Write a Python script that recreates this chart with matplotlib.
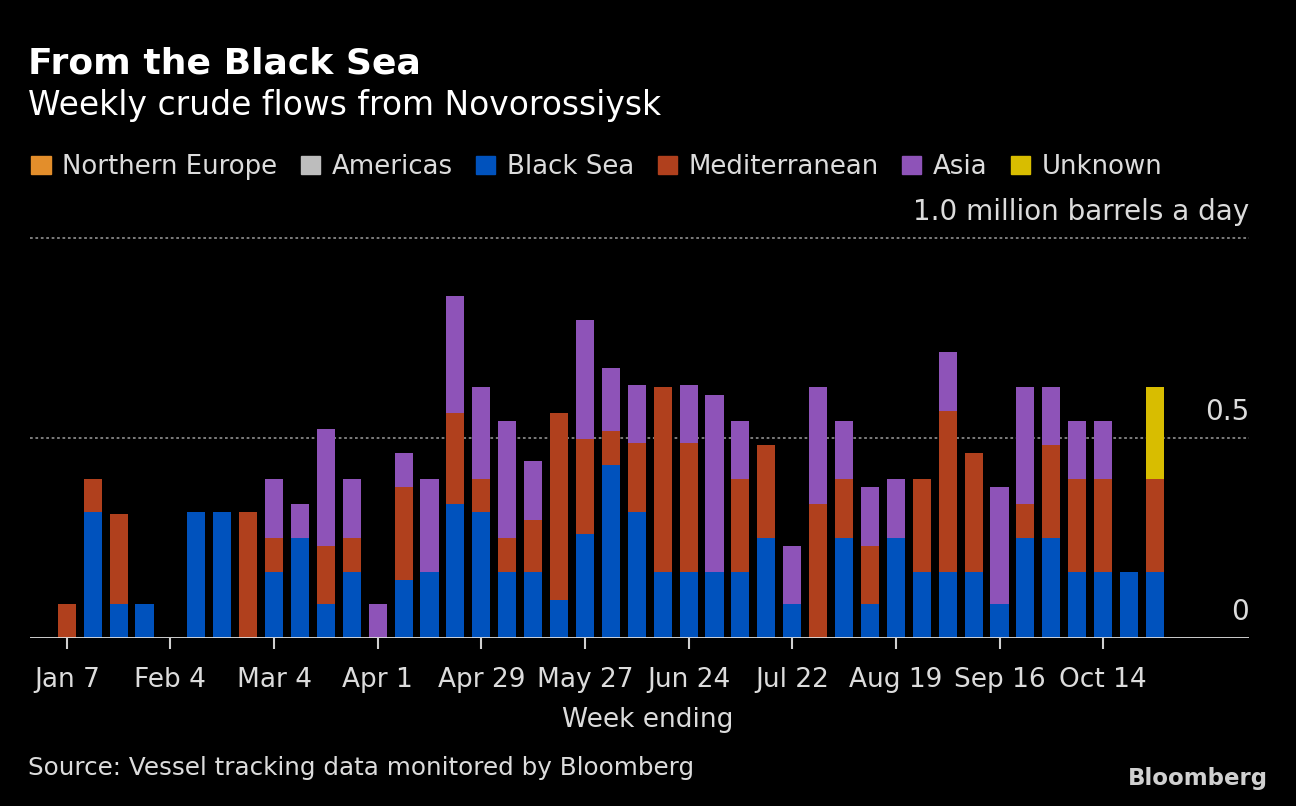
import matplotlib
matplotlib.use('Agg')
import matplotlib.pyplot as plt
import matplotlib.transforms as mtransforms
from matplotlib.patches import Patch
import numpy as np

# week ending dates shown on the axis (every 4th week)
tick_labels = ['Jan 7', 'Feb 4', 'Mar 4', 'Apr 1', 'Apr 29', 'May 27',
               'Jun 24', 'Jul 22', 'Aug 19', 'Sep 16', 'Oct 14']

# million barrels a day, 43 weeks from Jan 7
northern_europe = [0.0] * 43
americas = [0.0] * 43
black_sea = [0.0, 0.316, 0.085, 0.085, 0.0, 0.316, 0.316, 0.0, 0.165, 0.251,
             0.085, 0.165, 0.0, 0.145, 0.165, 0.336, 0.316, 0.165, 0.165, 0.095,
             0.261, 0.432, 0.316, 0.165, 0.165, 0.165, 0.165, 0.251, 0.085, 0.0,
             0.251, 0.085, 0.251, 0.165, 0.165, 0.165, 0.085, 0.251, 0.251, 0.165,
             0.165, 0.165, 0.165]
mediterranean = [0.085, 0.081, 0.226, 0.0, 0.0, 0.0, 0.0, 0.316, 0.086, 0.0,
                 0.146, 0.086, 0.0, 0.232, 0.0, 0.227, 0.081, 0.086, 0.131, 0.468,
                 0.236, 0.085, 0.171, 0.463, 0.322, 0.0, 0.232, 0.231, 0.0, 0.336,
                 0.146, 0.146, 0.0, 0.232, 0.403, 0.297, 0.0, 0.085, 0.231, 0.232,
                 0.232, 0.0, 0.232]
asia = [0.0, 0.0, 0.0, 0.0, 0.0, 0.0, 0.0, 0.0, 0.146, 0.085,
        0.292, 0.146, 0.085, 0.085, 0.232, 0.292, 0.231, 0.292, 0.146, 0.0,
        0.297, 0.157, 0.146, 0.0, 0.146, 0.443, 0.146, 0.0, 0.146, 0.292,
        0.146, 0.146, 0.146, 0.0, 0.146, 0.0, 0.292, 0.292, 0.146, 0.146,
        0.146, 0.0, 0.0]
unknown = [0.0] * 42 + [0.231]

series = [('Northern Europe', northern_europe, '#e38e2b'),
          ('Americas', americas, '#bdbdbd'),
          ('Black Sea', black_sea, '#0052bd'),
          ('Mediterranean', mediterranean, '#b0401d'),
          ('Asia', asia, '#8e53b8'),
          ('Unknown', unknown, '#d8bd00')]

txt = '#dcdcdc'
plt.rcParams['font.family'] = 'DejaVu Sans'

fig = plt.figure(figsize=(12.96, 8.06), dpi=100, facecolor='black')
ax = fig.add_axes([30/1296, 1-638/806, 1219/1296, 400/806])
ax.set_facecolor('black')

x = np.arange(43)
bottom = np.zeros(43)
for name, vals, color in series:
    vals = np.array(vals)
    ax.bar(x, vals, 0.7, bottom=bottom, color=color, zorder=2)
    bottom += vals

ax.set_xlim(-1.42, 45.63)
ax.set_ylim(0, 1.0)

# dotted gridlines + baseline
for g in [0.5, 1.0]:
    ax.axhline(g, color='#858585', lw=1.3, ls=(0, (1.5, 1.5)), zorder=1, clip_on=False)
ax.axhline(0, color='#e0e0e0', lw=2, zorder=3)

for s in ax.spines.values():
    s.set_visible(False)

ax.set_xticks(x[::4])
ax.set_xticklabels(tick_labels)
ax.tick_params(axis='x', colors='#d0d0d0', length=8, width=1.5, labelsize=19, pad=13, labelcolor=txt)
ax.set_yticks([])

# y labels inside, on the right
trans = mtransforms.blended_transform_factory(ax.transAxes, ax.transData)
for val, lab in [(0, '0'), (0.5, '0.5'), (1.0, '1.0 million barrels a day')]:
    ax.annotate(lab, (1.0, val), xycoords=trans, xytext=(0, 13), textcoords='offset points',
                ha='right', va='baseline', color=txt, fontsize=20)

# titles
fig.text(28/1296, 1-63/806, 'From the Black Sea', color='white', fontsize=26,
         fontweight='bold', va='center', ha='left')
fig.text(28/1296, 1-105/806, 'Weekly crude flows from Novorossiysk', color='white',
         fontsize=23.7, va='center', ha='left')

handles = [Patch(color=c) for _, _, c in series]
labels = [n for n, _, _ in series]
fig.legend(handles, labels, loc='center left', bbox_to_anchor=(8/1296, 1-167/806),
           ncol=6, frameon=False, fontsize=18.7, labelcolor=txt, handlelength=0.74,
           handleheight=0.74, handletextpad=0.45, columnspacing=0.9)

fig.text(0.5, 1-720/806, 'Week ending', color=txt, fontsize=19, ha='center', va='center')
fig.text(28/1296, 1-768/806, 'Source: Vessel tracking data monitored by Bloomberg',
         color=txt, fontsize=17.7, ha='left', va='center')
fig.text(1268/1296, 1-778/806, 'Bloomberg', color='#d0d0d0', fontsize=16.5,
         fontweight='bold', ha='right', va='center')

fig.savefig('out.png', dpi=100, facecolor='black')
